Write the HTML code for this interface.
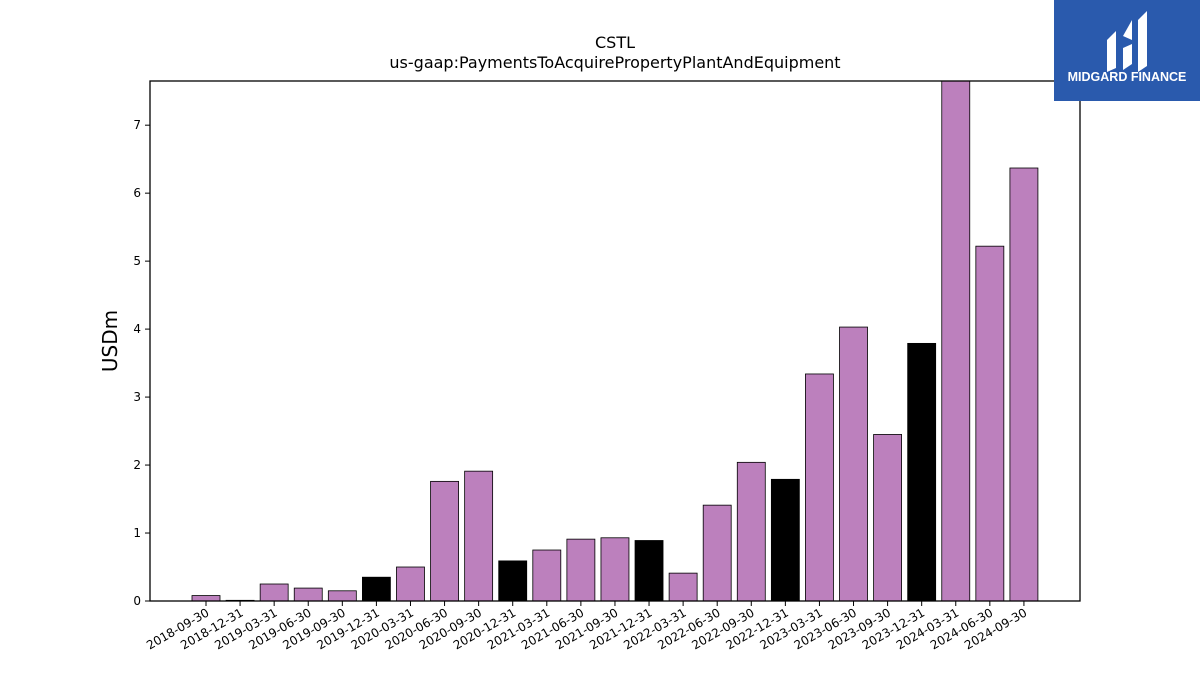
<!DOCTYPE html>
<html><head><meta charset="utf-8"><style>
body{margin:0;background:#fff;width:1200px;height:675px;overflow:hidden;font-family:"Liberation Sans","DejaVu Sans",sans-serif}
svg text{font-family:"DejaVu Sans","Liberation Sans",sans-serif}
</style></head><body>
<svg id="chart" width="1200" height="675" xmlns="http://www.w3.org/2000/svg">
<text x="615" y="48" font-size="16" text-anchor="middle">CSTL</text>
<text x="615" y="68" font-size="16" text-anchor="middle">us-gaap:PaymentsToAcquirePropertyPlantAndEquipment</text>
<text transform="translate(117,341) rotate(-90)" font-size="20" text-anchor="middle">USDm</text>
<g id="bars"></g>
<g id="yticks"></g>
<g id="xticks"></g>
<rect x="150" y="81" width="930" height="520" fill="none" stroke="#000" stroke-width="1.3"/>
<g>
<rect x="1054" y="0" width="146" height="101" fill="#2a5aad"/>
<path d="M1107,40 L1116,31 L1116,68 L1107,72 Z" fill="#fff"/>
<path d="M1123,36 L1132,20 L1132,40 L1123,36 Z M1123,48 L1132,44 L1132,64 L1123,70 Z" fill="#fff"/>
<path d="M1138,20 L1147,11 L1147,66 L1138,72 Z" fill="#fff"/>
<text x="1127" y="81" font-size="12.5" font-weight="bold" fill="#fff" text-anchor="middle" style="font-family:'Liberation Sans',sans-serif">MIDGARD FINANCE</text>
</g>
</svg>
<script>
const categories=["2018-09-30","2018-12-31","2019-03-31","2019-06-30","2019-09-30","2019-12-31","2020-03-31","2020-06-30","2020-09-30","2020-12-31","2021-03-31","2021-06-30","2021-09-30","2021-12-31","2022-03-31","2022-06-30","2022-09-30","2022-12-31","2023-03-31","2023-06-30","2023-09-30","2023-12-31","2024-03-31","2024-06-30","2024-09-30"];
const values=[0.08,0.01,0.25,0.19,0.15,0.35,0.5,1.76,1.91,0.59,0.75,0.91,0.93,0.89,0.41,1.41,2.04,1.79,3.34,4.03,2.45,3.79,7.8,5.22,6.37];
const yTicks=[0,1,2,3,4,5,6,7];
const yMax=7.65;
const NS="http://www.w3.org/2000/svg";
const L=150,R=1080,T=81,B=601;
const y=v=>B-(Math.min(v,yMax))/yMax*(B-T);
const step=34.08, x0=206;
const x=i=>x0+i*step;
const bw=28;
const bars=document.getElementById('bars'),yt=document.getElementById('yticks'),xt=document.getElementById('xticks');
categories.forEach((c,i)=>{
 const r=document.createElementNS(NS,'rect');
 
 
 const black=c.endsWith('12-31');
 r.setAttribute('x',x(i)-bw/2);r.setAttribute('y',y(values[i]));
 r.setAttribute('width',bw);r.setAttribute('height',B-y(values[i]));
 r.setAttribute('fill',black?'#000':'#bc80bd');r.setAttribute('stroke','#000');r.setAttribute('stroke-width','0.8');
 bars.appendChild(r);
 const tk=document.createElementNS(NS,'line');
 
 
 tk.setAttribute('x1',x(i));tk.setAttribute('x2',x(i));tk.setAttribute('y1',B);tk.setAttribute('y2',B+5);tk.setAttribute('stroke','#000');
 xt.appendChild(tk);
 const t=document.createElementNS(NS,'text');
 
 
 t.setAttribute('font-size','12');t.setAttribute('text-anchor','end');
 t.setAttribute('transform',`translate(${x(i)+4},${B+14}) rotate(-30)`);
 t.textContent=c;xt.appendChild(t);
});
yTicks.forEach(v=>{
 const tk=document.createElementNS(NS,'line');
 
 
 tk.setAttribute('x1',L-5);tk.setAttribute('x2',L);tk.setAttribute('y1',y(v));tk.setAttribute('y2',y(v));tk.setAttribute('stroke','#000');
 yt.appendChild(tk);
 const t=document.createElementNS(NS,'text');
 
 
 t.setAttribute('font-size','12');t.setAttribute('text-anchor','end');
 t.setAttribute('x',L-9);t.setAttribute('y',y(v)+4);
 t.textContent=v;yt.appendChild(t);
});
</script>
</body></html>
